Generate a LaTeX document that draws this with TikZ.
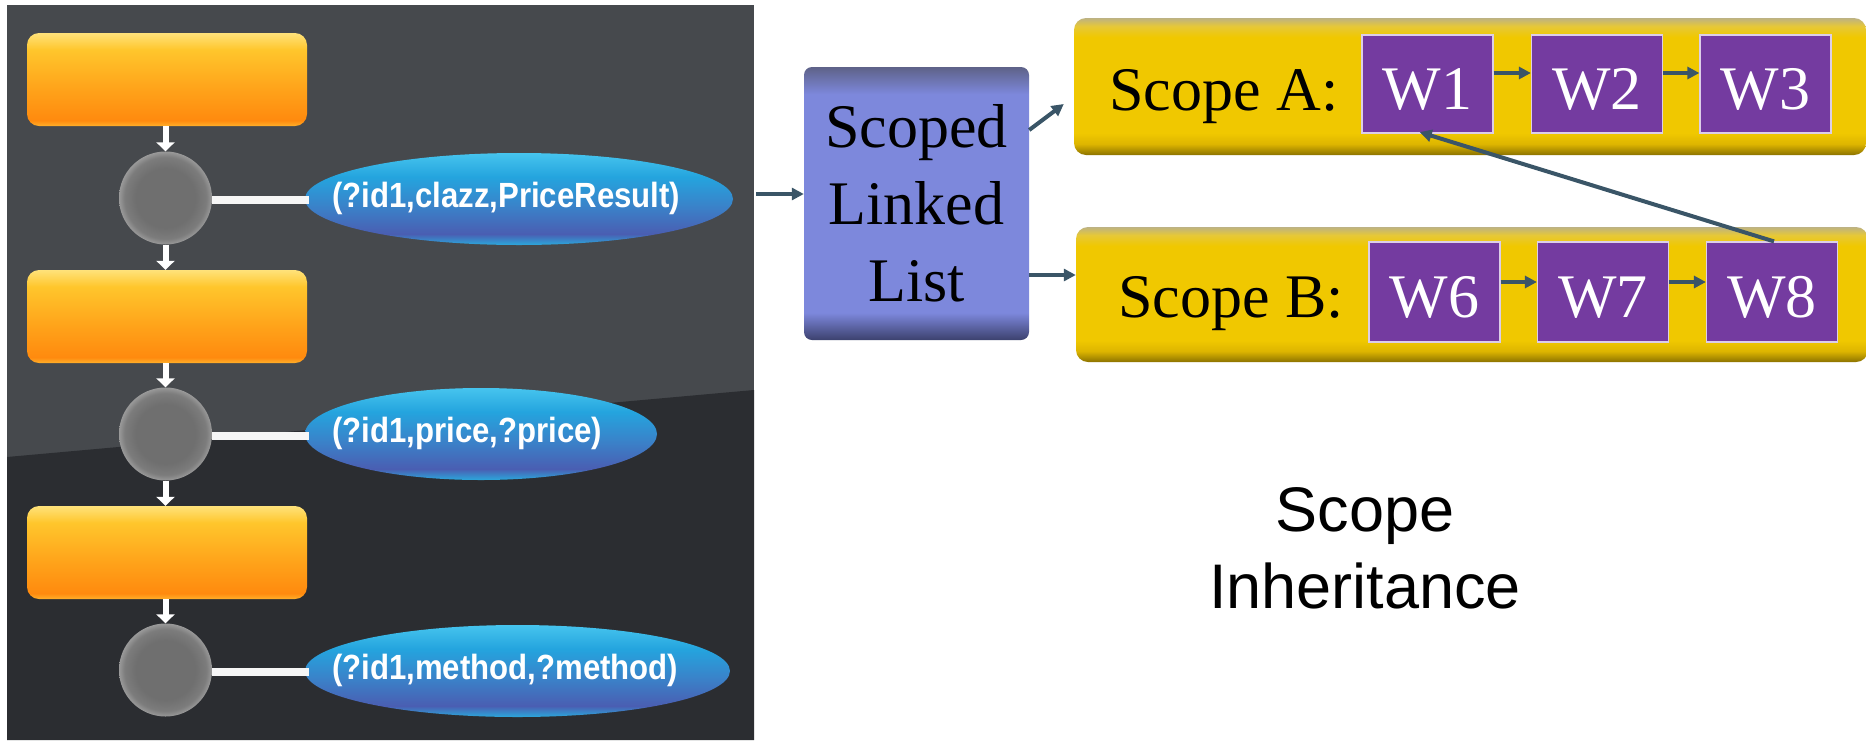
\documentclass[tikz,border=0pt]{standalone}
\usepackage{fontspec}
\setmainfont{Liberation Serif}
\newfontfamily\sansfont{Liberation Sans}
\usetikzlibrary{shapes.geometric,arrows.meta}

% palette
\definecolor{panelTop}{HTML}{46494D}
\definecolor{panelLow}{HTML}{2B2D31}
\definecolor{orBot}{HTML}{FFB02A}
\definecolor{orDeep}{HTML}{FF8A0E}
\definecolor{orMid}{HTML}{FFA31A}
\definecolor{orHigh}{HTML}{FFC62C}
\definecolor{orTop}{HTML}{FFE27A}
\definecolor{blRim}{HTML}{2BA8DC}
\definecolor{blLow}{HTML}{4A5EB2}
\definecolor{blMid}{HTML}{3A82C9}
\definecolor{blHigh}{HTML}{24A4DE}
\definecolor{blTop}{HTML}{46C4EE}
\definecolor{sllBot}{HTML}{3C416E}
\definecolor{sllBody}{HTML}{7D88DC}
\definecolor{sllTop}{HTML}{5E6288}
\definecolor{ylBot}{HTML}{8C7300}
\definecolor{ylEdge}{HTML}{DDB500}
\definecolor{ylBody}{HTML}{F0C800}
\definecolor{ylHigh}{HTML}{E6C838}
\definecolor{ylTop}{HTML}{BDB283}
\definecolor{wPurple}{HTML}{743BA0}
\definecolor{arrowc}{HTML}{3A5567}
\definecolor{dotIn}{HTML}{6F6F6F}
\definecolor{dotMid}{HTML}{7C7C7C}
\definecolor{dotRim}{HTML}{999999}

% gradients (path box spans 25bp..75bp)
\pgfdeclareverticalshading{orangebar}{100bp}{color(0bp)=(orBot); color(25bp)=(orBot); color(28bp)=(orDeep); color(45bp)=(orMid); color(66bp)=(orHigh); color(75bp)=(orTop); color(100bp)=(orTop)}
\pgfdeclareverticalshading{bluepill}{100bp}{color(0bp)=(blRim); color(25bp)=(blRim); color(31bp)=(blLow); color(46bp)=(blMid); color(62bp)=(blHigh); color(75bp)=(blTop); color(100bp)=(blTop)}
\pgfdeclareverticalshading{sllbar}{100bp}{color(0bp)=(sllBot); color(25bp)=(sllBot); color(30bp)=(sllBody); color(70bp)=(sllBody); color(75bp)=(sllTop); color(100bp)=(sllTop)}
\pgfdeclareverticalshading{yellowbar}{100bp}{color(0bp)=(ylBot); color(25bp)=(ylBot); color(29bp)=(ylEdge); color(33bp)=(ylBody); color(68bp)=(ylBody); color(72bp)=(ylHigh); color(75bp)=(ylTop); color(100bp)=(ylTop)}
\pgfdeclareradialshading{dotshade}{\pgfpoint{0bp}{0bp}}{color(0bp)=(dotIn); color(16bp)=(dotIn); color(22bp)=(dotMid); color(25bp)=(dotRim); color(50bp)=(dotRim)}

% narrow bold sans for the triple patterns
\newcommand{\narrowtext}[1]{\scalebox{0.89}[1]{#1}}

\tikzset{
  orangebox/.style={rectangle, rounded corners=12pt, minimum width=280pt, minimum height=93pt, inner sep=0pt, shade, shading=orangebar},
  graydot/.style={circle, minimum size=93pt, inner sep=0pt, shade, shading=dotshade},
  pill/.style={ellipse, inner sep=0pt, shade, shading=bluepill},
  pilltext/.style={anchor=base west, text=white, inner sep=0pt, font=\sansfont\bfseries\fontsize{35}{40}\selectfont},
  bar/.style={draw=white!93!gray, line width=8pt},
  wdown/.style={draw=white, line width=6pt, -{Triangle[length=9pt,width=18pt]}},
  sllbox/.style={rectangle, rounded corners=8pt, minimum width=225pt, minimum height=273pt, inner sep=0pt, shade, shading=sllbar, align=center, font=\fontsize{62}{77}\selectfont},
  scopebox/.style={rectangle, rounded corners=12pt, minimum width=792pt, inner sep=0pt, shade, shading=yellowbar},
  scopelabel/.style={anchor=base west, inner sep=0pt, font=\fontsize{62}{74}\selectfont},
  wbox/.style={rectangle, fill=wPurple, draw=white!75!wPurple, line width=1.2pt, minimum width=131pt, inner sep=0pt, text=white, text height=50pt, text depth=0pt, font=\fontsize{62}{74}\selectfont},
  arr/.style={draw=arrowc, line width=4pt, -{Triangle[length=12pt,width=12pt]}},
  caption/.style={align=center, font=\sansfont\fontsize{63}{77}\selectfont}
}

\begin{document}
\begin{tikzpicture}[x=1pt, y=-1pt]
\useasboundingbox (0,0) rectangle (1866,740);
\fill[white] (0,0) rectangle (1866,740);

% dark flow panel with its darker lower part
\fill[panelTop] (7,5) rectangle (754,740);
\fill[panelLow] (7,457) -- (754,390) -- (754,740) -- (7,740) -- cycle;

% flow steps
\node[orangebox] (o1) at (167,79.5) {};
\node[orangebox] (o2) at (167,316.5) {};
\node[orangebox] (o3) at (167,552.5) {};
\node[graydot] (c1) at (165.5,198) {};
\node[graydot] (c2) at (165.5,434) {};
\node[graydot] (c3) at (165.5,670) {};

% triple patterns
\node[pill, minimum width=428pt, minimum height=92pt] (e1) at (519,199) {};
\node[pill, minimum width=352pt, minimum height=92pt] (e2) at (481,434) {};
\node[pill, minimum width=425pt, minimum height=92pt] (e3) at (517.5,671) {};
\node[pilltext] (t1) at (332,207) {\narrowtext{(?id1,clazz,PriceResult)}};
\node[pilltext] (t2) at (332,442) {\narrowtext{(?id1,price,?price)}};
\node[pilltext] (t3) at (332,679) {\narrowtext{(?id1,method,?method)}};

% horizontal links from each step to its pattern
\draw[bar] ([yshift=-2pt]c1.east) -- ([yshift=-2pt,xshift=4pt]c1.east -| e1.west);
\draw[bar] ([yshift=-2pt]c2.east) -- ([yshift=-2pt,xshift=4pt]c2.east -| e2.west);
\draw[bar] ([yshift=-2pt]c3.east) -- ([yshift=-2pt,xshift=4pt]c3.east -| e3.west);

\draw[wdown] (c1.north |- o1.south) -- (c1.north);
\draw[wdown] (c1.south) -- (c1.south |- o2.north);
\draw[wdown] (c2.north |- o2.south) -- (c2.north);
\draw[wdown] (c2.south) -- (c2.south |- o3.north);
\draw[wdown] (c3.north |- o3.south) -- (c3.north);

% scoped linked list
\node[sllbox] (sll) at (916.5,203.5) {Scoped\\Linked\\List};

\node[scopebox, minimum height=137pt] (sa) at (1470,86.5) {};
\node[scopebox, minimum height=135pt] (sb) at (1472,294.5) {};
\node[scopelabel] (la) at (1109,110) {Scope A:};
\node[scopelabel] (lb) at (1118,317) {Scope B:};

\node[wbox, minimum height=98pt] (w1) at (1427.5,84) {W1};
\node[wbox, minimum height=98pt] (w2) at (1597,84) {W2};
\node[wbox, minimum height=98pt] (w3) at (1765.5,84) {W3};
\node[wbox, minimum height=100pt] (w6) at (1434.5,292) {W6};
\node[wbox, minimum height=100pt] (w7) at (1603,292) {W7};
\node[wbox, minimum height=100pt] (w8) at (1772,292) {W8};

% links
\coordinate (pout) at (756,194);
\draw[arr] (pout) -- (sll.west |- pout);
\draw[arr] ([yshift=73.5pt]sll.east) -- ([xshift=-10pt,yshift=-17.5pt]sa.west);
\draw[arr] ([yshift=-71.5pt]sll.east) -- ([yshift=19.5pt]sb.west);
\draw[arr] ([yshift=11pt]w1.east) -- ([yshift=11pt]w2.west);
\draw[arr] ([yshift=11pt]w2.east) -- ([yshift=11pt]w3.west);
\draw[arr] ([yshift=10pt]w6.east) -- ([yshift=10pt]w7.west);
\draw[arr] ([yshift=10pt]w7.east) -- ([yshift=10pt]w8.west);
\draw[arr, shorten >=-5pt] ([xshift=2pt]w8.north) -- ([xshift=-3pt]w1.south);

\node[caption] (cap) at (1365,548.5) {Scope\\Inheritance};
\end{tikzpicture}
\end{document}
